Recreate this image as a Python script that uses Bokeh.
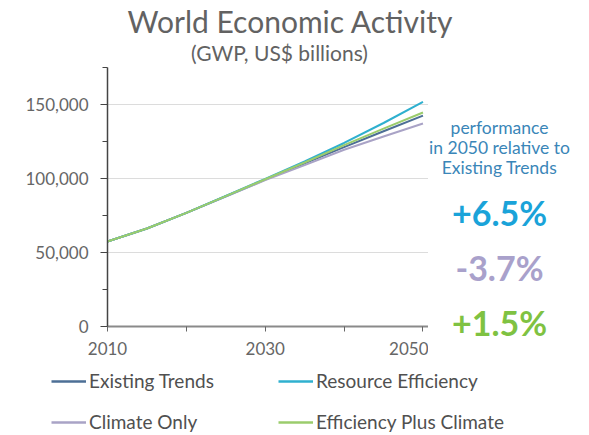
from bokeh.plotting import figure
from bokeh.layouts import column, row
from bokeh.models import Label, Legend, LegendItem, FixedTicker, NumeralTickFormatter, Range1d
from bokeh.embed import file_html
from bokeh.resources import INLINE

# Gross world product by scenario, US$ billions
years = [2010, 2015, 2020, 2025, 2030, 2035, 2040, 2045, 2050]
existing_trends = [57400, 66200, 76800, 88000, 99200, 110200, 121200, 131900, 142500]
resource_efficiency = [57400, 66200, 76800, 88200, 99800, 111500, 124000, 137500, 151800]
climate_only = [57400, 66200, 76800, 87800, 98900, 109000, 119400, 128400, 137200]
efficiency_plus_climate = [57400, 66200, 76800, 88100, 99500, 110800, 122600, 133700, 144600]

series_names = ["Existing Trends", "Resource Efficiency", "Climate Only", "Efficiency Plus Climate"]
series_colors = ["#4d6f96", "#2fb0cf", "#a9a3c6", "#9bcc6c"]
change_2050 = ["+6.5%", "-3.7%", "+1.5%"]
change_colors = ["#1aa3d9", "#a9a1cb", "#7fc242"]
note_lines = ["performance", "in 2050 relative to", "Existing Trends"]

y_ticks = [0, 50000, 100000, 150000]
y_minor = [25000, 75000, 125000, 175000]
x_ticks = [2010, 2030, 2050]
x_minor = [2020, 2040]

FONT = "Lato"
W, H = 589, 435


def blank(width, height):
    """A bare panel whose frame fills it: one data unit per pixel, origin bottom-left."""
    f = figure(width=width, height=height, output_backend="svg", toolbar_location=None,
               x_range=Range1d(0, width), y_range=Range1d(0, height),
               x_axis_location=None, y_axis_location=None,
               min_border=0, min_border_left=0, min_border_right=0,
               min_border_top=0, min_border_bottom=0)
    f.outline_line_color = None
    f.xgrid.visible = False
    f.ygrid.visible = False
    return f


# ---- heading ----
head = blank(W, 67)
head.add_layout(Label(x=290, y=47, text="World Economic Activity",
                      text_align="center", text_baseline="middle",
                      text_font=FONT, text_font_size="30px", text_color="#626262"))
head.add_layout(Label(x=279, y=15, text="(GWP, US$ billions)",
                      text_align="center", text_baseline="middle",
                      text_font=FONT, text_font_size="21px", text_color="#626262"))

# ---- main chart ----
p = figure(width=428, height=300, output_backend="svg", toolbar_location=None,
           x_range=Range1d(2010, 2050.7), y_range=Range1d(0, 175000),
           min_border_left=107, min_border_right=0, min_border_top=0, min_border_bottom=41)
p.outline_line_color = None

series = {0: existing_trends, 1: resource_efficiency, 2: climate_only, 3: efficiency_plus_climate}
for idx in [0, 2, 1, 3]:
    p.line(years, series[idx], line_color=series_colors[idx], line_width=2)

p.xgrid.grid_line_color = None
p.ygrid.grid_line_color = "#dcdcdc"
p.ygrid.ticker = FixedTicker(ticks=[50000, 100000, 150000])

p.yaxis.ticker = FixedTicker(ticks=y_ticks, minor_ticks=y_minor)
p.yaxis.formatter = NumeralTickFormatter(format="0,0")
p.yaxis.axis_line_color = "#444444"
p.yaxis.axis_line_width = 1.5
p.yaxis.major_tick_line_color = "#444444"
p.yaxis.minor_tick_line_color = "#444444"
p.yaxis.major_tick_out = 7
p.yaxis.major_tick_in = 0
p.yaxis.minor_tick_out = 5
p.yaxis.minor_tick_in = 0
p.yaxis.major_label_standoff = 12

p.xaxis.ticker = FixedTicker(ticks=x_ticks, minor_ticks=x_minor)
p.xaxis.axis_line_color = "#8a8a8a"
p.xaxis.axis_line_width = 2
p.xaxis.major_tick_line_color = "#666666"
p.xaxis.minor_tick_line_color = "#666666"
p.xaxis.major_tick_out = 5
p.xaxis.major_tick_in = 0
p.xaxis.minor_tick_out = 5
p.xaxis.minor_tick_in = 0
p.xaxis.major_label_standoff = 10

for ax in (p.xaxis, p.yaxis):
    ax.major_label_text_font = FONT
    ax.major_label_text_font_size = "17px"
    ax.major_label_text_color = "#666666"

# ---- 2050 comparison notes ----
notes = blank(161, 300)
for i, line in enumerate(note_lines):
    notes.add_layout(Label(x=71, y=240 - 20 * i, text=line,
                           text_align="center", text_baseline="middle",
                           text_font=FONT, text_font_size="17.5px", text_color="#3a86b8"))
for i, (txt, col) in enumerate(zip(change_2050, change_colors)):
    notes.add_layout(Label(x=71, y=155 - 55 * i, text=txt,
                           text_align="center", text_baseline="middle",
                           text_font=FONT, text_font_size="34px", text_font_style="bold",
                           text_color=col))

# ---- legend strip ----
leg = blank(W, 68)
# key stubs sit outside the visible range; only their legend swatches show
keys = [leg.line([-20, -10], [-20, -20], line_color=c, line_width=2.5) for c in series_colors]


def add_legend(indices, vx):
    items = [LegendItem(label=series_names[i], renderers=[keys[i]]) for i in indices]
    leg.add_layout(Legend(items=items, location=(vx, 2), orientation="vertical",
                          padding=0, margin=0, spacing=18, glyph_width=35, glyph_height=22,
                          label_height=22, label_standoff=3,
                          label_text_font=FONT, label_text_font_size="19px",
                          label_text_color="#505050",
                          border_line_alpha=0, background_fill_alpha=0))


add_legend([0, 2], 51)
add_legend([1, 3], 278)

# chart and notes are wrapped separately so each keeps its own frame
layout = column(head, row(column(p), column(notes), spacing=0), leg, spacing=0)
open("out.html", "w").write(file_html(layout, INLINE))
